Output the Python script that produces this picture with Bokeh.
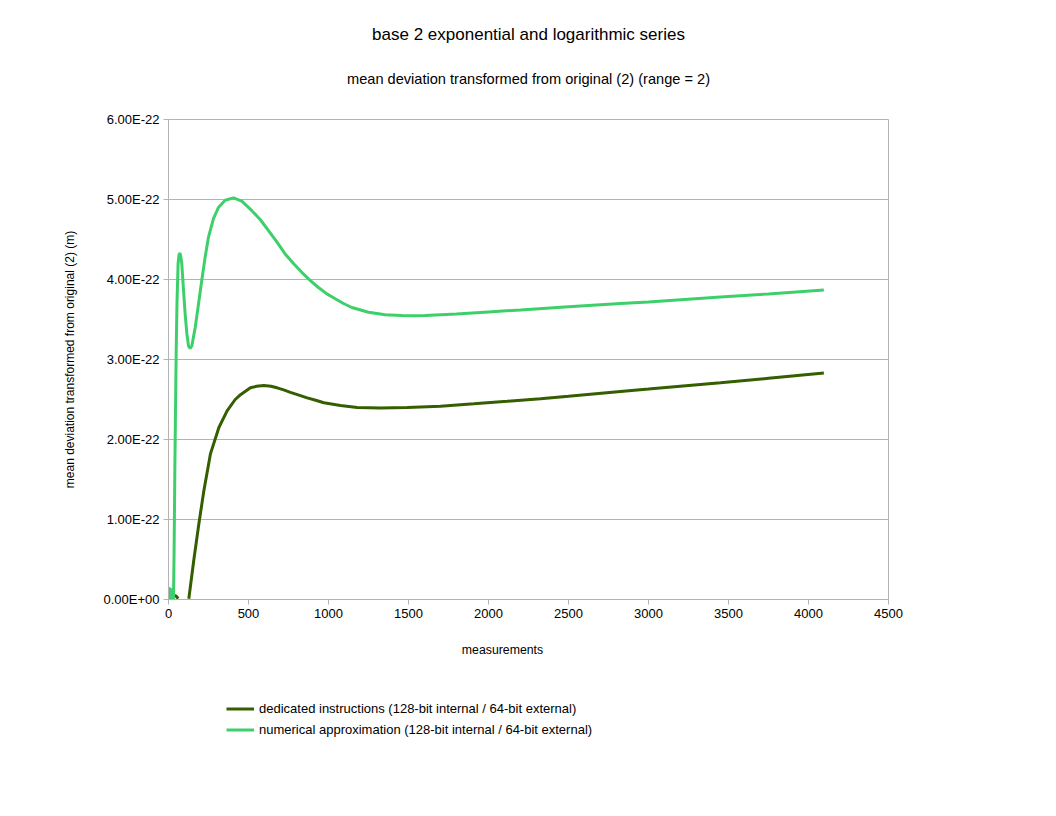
import numpy as np
from bokeh.plotting import figure
from bokeh.layouts import column
from bokeh.models import (Range1d, FixedTicker, CustomJSTickFormatter, Label,
                          Legend, LegendItem, ColumnDataSource)
from bokeh.embed import file_html
from bokeh.resources import INLINE

# ---- data (values in units of 1e-22 m) ----
dedicated_x = [0, 20, 30, 40, 50, 60, np.nan,
               127, 158, 190, 221, 262, 315, 367, 417, 450, 512, 550, 596, 640,
               679, 720, 762, 815, 867, 920, 971, 1075, 1179, 1325, 1492, 1700,
               1908, 2117, 2325, 2500, 2825, 3000, 3450, 3750, 4096]
dedicated_y = [0.0, 0.01, 0.03, 0.05, 0.04, 0.01, np.nan,
               0.01, 0.49, 0.95, 1.36, 1.82, 2.15, 2.36, 2.50, 2.56, 2.646, 2.665,
               2.675, 2.665, 2.646, 2.62, 2.59, 2.555, 2.52, 2.49, 2.46, 2.425,
               2.40, 2.395, 2.40, 2.416, 2.446, 2.478, 2.51, 2.54, 2.60, 2.63,
               2.71, 2.765, 2.83]

numerical_x = [0, 3, 8, 13, 18, 25, 31, 35, 40, 44, 48, 53, 60, 66, 72, 78, 83,
               94, 104, 115, 125, 135, 146, 156, 167, 188, 208, 229, 250, 281,
               312, 354, 406, 458, 521, 573, 625, 677, 729, 781, 833, 885, 937,
               990, 1042, 1094, 1146, 1250, 1354, 1458, 1530, 1604, 1800, 2000,
               2200, 2500, 2825, 3000, 3450, 3750, 4096]
numerical_y = [0.0, 0.15, 0.12, 0.14, 0.02, 0.0, 0.0, 0.6, 1.7, 2.4, 3.1, 3.7,
               4.2, 4.31, 4.33, 4.27, 4.2, 3.86, 3.57, 3.32, 3.17, 3.14, 3.17,
               3.28, 3.40, 3.70, 3.99, 4.28, 4.53, 4.76, 4.90, 4.99, 5.02, 4.98,
               4.86, 4.75, 4.61, 4.47, 4.32, 4.20, 4.09, 3.99, 3.90, 3.82, 3.76,
               3.70, 3.65, 3.59, 3.56, 3.55, 3.548, 3.55, 3.57, 3.595, 3.62,
               3.66, 3.70, 3.72, 3.78, 3.82, 3.87]

x_ticks = [0, 500, 1000, 1500, 2000, 2500, 3000, 3500, 4000, 4500]
y_ticks = [0, 1, 2, 3, 4, 5, 6]

title_text = "base 2 exponential and logarithmic series"
subtitle_text = "mean deviation transformed from original (2) (range = 2)"
x_label = "measurements"
y_label = "mean deviation transformed from original (2) (m)"
series_names = ["dedicated instructions (128-bit internal / 64-bit external)",
                "numerical approximation (128-bit internal / 64-bit external)"]
series_colors = ["#355e00", "#3dd06a"]

SCALE = 1e-22
FONT = "Liberation Sans"
W = 1040
LEFT = 168
RIGHT = 152
HEAD_H = 109
MAIN_TOP = 10
MAIN_BOTTOM = 30
MAIN_H = MAIN_TOP + 480 + MAIN_BOTTOM
FOOT_H = 150
FOOT_TOP = HEAD_H + MAIN_H  # page y of the footer strip


def blank(height):
    f = figure(width=W, height=height, output_backend="svg", toolbar_location=None,
               x_range=Range1d(LEFT, W - RIGHT), y_range=Range1d(0, height),
               x_axis_type=None, y_axis_type=None,
               min_border_left=LEFT, min_border_right=RIGHT,
               min_border_top=0, min_border_bottom=0)
    f.outline_line_color = None
    f.grid.visible = False
    f.background_fill_color = "white"
    f.border_fill_color = "white"
    return f


# ---- header with the two titles ----
head = blank(HEAD_H)
head.add_layout(Label(x=528, y=HEAD_H - 34, text=title_text, text_font=FONT,
                      text_font_size="17px", text_align="center",
                      text_baseline="middle", text_color="black"))
head.add_layout(Label(x=528, y=HEAD_H - 78, text=subtitle_text, text_font=FONT,
                      text_font_size="14.6px", text_align="center",
                      text_baseline="middle", text_color="black"))

# ---- main chart ----
p = figure(width=W, height=MAIN_H, output_backend="svg", toolbar_location=None,
           x_range=Range1d(0, 4500), y_range=Range1d(0, 6 * SCALE),
           min_border_left=LEFT, min_border_right=RIGHT,
           min_border_top=MAIN_TOP, min_border_bottom=MAIN_BOTTOM)
p.background_fill_color = "white"
p.border_fill_color = "white"
p.outline_line_color = "#b3b3b3"
p.outline_line_width = 1

p.line(np.array(dedicated_x, dtype=float), np.array(dedicated_y, dtype=float) * SCALE,
       line_color=series_colors[0], line_width=3)
p.line(np.array(numerical_x, dtype=float), np.array(numerical_y, dtype=float) * SCALE,
       line_color=series_colors[1], line_width=3)

p.xaxis.ticker = FixedTicker(ticks=x_ticks)
p.yaxis.ticker = FixedTicker(ticks=[v * SCALE for v in y_ticks])
p.yaxis.formatter = CustomJSTickFormatter(code="""
    var s = tick.toExponential(2).toUpperCase();
    var parts = s.split("E");
    var e = parts[1];
    var sign = e[0];
    var d = e.slice(1);
    if (d.length < 2) { d = "0" + d; }
    return parts[0] + "E" + sign + d;
""")

for ax in (p.xaxis[0], p.yaxis[0]):
    ax.axis_line_color = "#b3b3b3"
    ax.major_tick_line_color = "#b3b3b3"
    ax.major_tick_out = 5
    ax.major_tick_in = 0
    ax.minor_tick_line_color = None
    ax.major_label_text_font = FONT
    ax.major_label_text_font_size = "13px"
    ax.major_label_text_color = "black"
    ax.major_label_standoff = 4
    ax.axis_label_text_font = FONT
    ax.axis_label_text_font_size = "12px"
    ax.axis_label_text_font_style = "normal"
    ax.axis_label_text_color = "black"

p.yaxis.axis_label = y_label
p.yaxis.axis_label_standoff = 23

p.xgrid.grid_line_color = None
p.ygrid.grid_line_color = "#b3b3b3"
p.ygrid.grid_line_width = 1

# ---- footer strip: x-axis title and legend ----
foot = blank(FOOT_H)
foot.add_layout(Label(x=502, y=FOOT_H - (649 - FOOT_TOP), text=x_label,
                      text_font=FONT, text_font_size="12.3px", text_align="center",
                      text_baseline="middle", text_color="black"))
hidden = ColumnDataSource(data=dict(x=[np.nan, np.nan], y=[np.nan, np.nan]))
k1 = foot.line("x", "y", source=hidden, line_color=series_colors[0], line_width=3)
k2 = foot.line("x", "y", source=hidden, line_color=series_colors[1], line_width=3)
legend_top = 697.5 - FOOT_TOP
legend = Legend(items=[LegendItem(label=series_names[0], renderers=[k1]),
                       LegendItem(label=series_names[1], renderers=[k2])],
                location=(226 - LEFT, FOOT_H - legend_top - 42), orientation="vertical",
                padding=0, margin=0, spacing=0,
                glyph_width=28, glyph_height=21, label_height=21,
                label_standoff=5, label_text_font=FONT,
                label_text_font_size="13px", label_text_color="black",
                border_line_color=None, background_fill_alpha=0)
foot.add_layout(legend, "center")

layout = column(head, p, foot, spacing=0)
open("out.html", "w").write(file_html(layout, INLINE))
